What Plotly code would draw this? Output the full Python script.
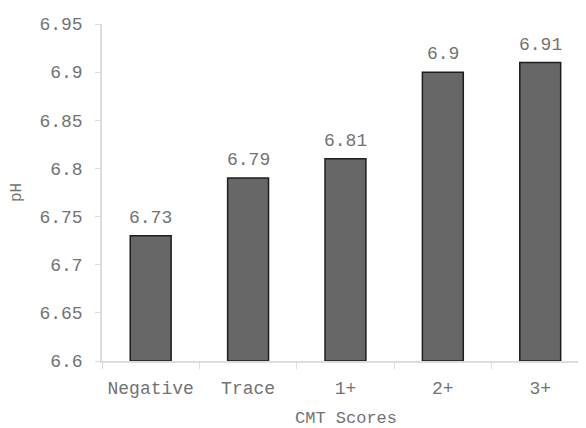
import plotly.graph_objects as go

categories = ["Negative", "Trace", "1+", "2+", "3+"]
ph_values = [6.73, 6.79, 6.81, 6.90, 6.91]
value_labels = ["6.73", "6.79", "6.81", "6.9", "6.91"]
y_tickvals = [6.6, 6.65, 6.7, 6.75, 6.8, 6.85, 6.9, 6.95]
y_ticktext = ["6.6", "6.65", "6.7", "6.75", "6.8", "6.85", "6.9", "6.95"]
x_title = "CMT Scores"
y_title = "pH"
BASE = 6.6

FONT = "Courier New, Liberation Mono, monospace"
TXT = "#727272"

fig = go.Figure()
fig.add_trace(go.Bar(
    x=categories, y=[v - BASE for v in ph_values], base=BASE, width=0.42,
    marker=dict(color="#676767", line=dict(color="#1e1e1e", width=1.5)),
    hoverinfo="skip",
))

for c, v, t in zip(categories, ph_values, value_labels):
    fig.add_annotation(x=c, y=v, text=t, showarrow=False, yanchor="bottom",
                       yshift=6, font=dict(family=FONT, size=18, color=TXT))

# x-axis title placed below tick labels
fig.add_annotation(x=0.5, y=0, xref="paper", yref="paper", text=x_title,
                   showarrow=False, yanchor="middle", yshift=-57, xshift=2,
                   font=dict(family=FONT, size=17, color=TXT))

fig.update_layout(
    width=578, height=420,
    margin=dict(l=94, r=0, t=16, b=67),
    paper_bgcolor="white", plot_bgcolor="white",
    showlegend=False,
    font=dict(family=FONT, size=18, color=TXT),
    xaxis=dict(
        type="category", range=[-0.5, 4.47], automargin=False,
        showline=True, linecolor="#dcdcdc", linewidth=1.5,
        ticks="outside", tickson="boundaries", ticklen=6, tickcolor="#dcdcdc",
        ticklabelstandoff=10,
        showgrid=False, zeroline=False,
        tickfont=dict(family=FONT, size=18, color=TXT),
    ),
    yaxis=dict(
        range=[6.6, 6.95], tickvals=y_tickvals, ticktext=y_ticktext, automargin=False,
        showline=True, linecolor="#dcdcdc", linewidth=1.5,
        ticks="outside", ticklen=5, tickcolor="#dcdcdc",
        ticklabelstandoff=9,
        showgrid=False, zeroline=False,
        title=dict(text=y_title, font=dict(family=FONT, size=16, color=TXT), standoff=14),
        tickfont=dict(family=FONT, size=18, color=TXT),
    ),
)

fig.write_html("out.html")
